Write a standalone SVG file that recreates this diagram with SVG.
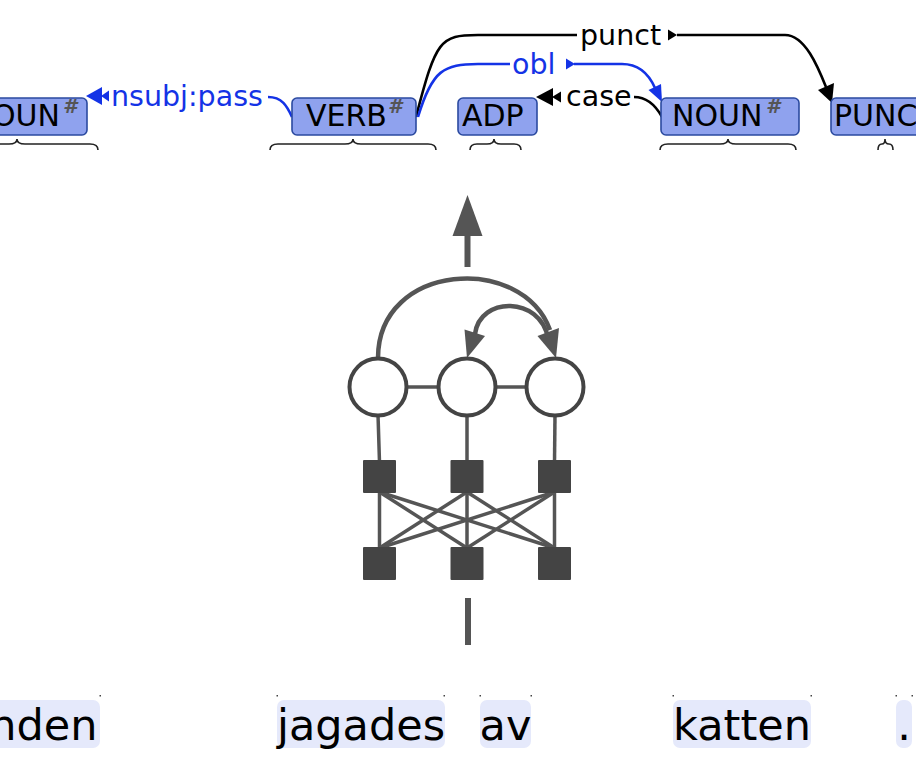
<svg xmlns="http://www.w3.org/2000/svg" width="916" height="772" viewBox="0 0 916 772">
<style>
.box{fill:#8fa2ee;stroke:#2b4aa0;stroke-width:1.6}
.pos{font-family:"DejaVu Sans",sans-serif;font-size:30px;fill:#000}
.sup{font-family:"DejaVu Sans",sans-serif;font-size:20px;font-weight:bold;font-style:italic;fill:#555}
.lab{font-family:"DejaVu Sans",sans-serif;font-size:28.5px}
.blk{fill:#000}
.blu{fill:#1433e6}
.brace{fill:none;stroke:#222;stroke-width:1.6}
.word{fill:#e5e9fb}
.wt{font-family:"DejaVu Sans",sans-serif;font-size:43px;fill:#000;text-anchor:middle}
.dot{fill:#444}
.nn{stroke:#555;stroke-width:3.5;fill:none}
.arc{stroke:#555;stroke-width:4.5;fill:none}
.circ{fill:#fff;stroke:#444;stroke-width:4}
.sq{fill:#444}
</style>

<g id="connectors">
  <!-- nsubj:pass -->
  <path d="M268,97 C282,97 287,106 292,117" fill="none" stroke="#1433e6" stroke-width="2.6"/>
  <polygon class="blu" points="86,96 102,87 102,105"/>
  <polygon class="blu" points="101,96 109,90.5 109,101.5"/>
  <text class="lab blu" x="111" y="106">nsubj:pass</text>
  <!-- punct -->
  <path d="M416,117 C436,40 440,35 478,35 L577,35" fill="none" stroke="#000" stroke-width="2.6"/>
  <path d="M677,35 L785,35 C805,35 818,67 826,87" fill="none" stroke="#000" stroke-width="2.6"/>
  <polygon class="blk" points="832,103 834,83 818,90"/>
  <polygon class="blk" points="668,29.5 668,40.5 677,35"/>
  <text class="lab blk" x="580" y="45">punct</text>
  <!-- obl -->
  <path d="M418,117 C432,70 444,64 478,64 L510,64" fill="none" stroke="#1433e6" stroke-width="2.6"/>
  <path d="M574,64 L622,64 C638,64 648,72 655,88" fill="none" stroke="#1433e6" stroke-width="2.6"/>
  <polygon class="blu" points="662,102 661,84 648.5,90"/>
  <polygon class="blu" points="566,58.5 566,69.5 575,64"/>
  <text class="lab blu" x="512" y="74">obl</text>
  <!-- case -->
  <path d="M634,97 C648,97 656,106 662,117" fill="none" stroke="#000" stroke-width="2.6"/>
  <polygon class="blk" points="536,97 553,88 553,106"/>
  <polygon class="blk" points="552,97 561,91.5 561,102.5"/>
  <text class="lab blk" x="566" y="106">case</text>
</g>

<g id="node-noun1">
  <rect class="box" x="-44" y="98" width="131" height="37" rx="5"/>
  <text class="pos" x="60" y="126" text-anchor="end">NOUN</text>
  <text class="sup" x="63" y="113">#</text>
  <path class="brace" d="M-64,150 Q-64,144 -56,144 L9,144 Q17,144 17,139 Q17,144 25,144 L90,144 Q98,144 98,150"/>
</g>
<g id="node-verb">
  <rect class="box" x="292" y="98" width="124" height="37" rx="5"/>
  <text class="pos" x="306" y="126">VERB</text>
  <text class="sup" x="388" y="113">#</text>
  <path class="brace" d="M270,150 Q270,144 278,144 L345,144 Q353,144 353,139 Q353,144 361,144 L428,144 Q436,144 436,150"/>
</g>
<g id="node-adp">
  <rect class="box" x="458" y="98" width="79" height="37" rx="5"/>
  <text class="pos" x="462" y="126">ADP</text>
  <path class="brace" d="M470,150 Q470,144 477,144 L487,144 Q494,144 494,139 Q494,144 501,144 L514,144 Q521,144 521,150"/>
</g>
<g id="node-noun2">
  <rect class="box" x="661" y="98" width="138" height="37" rx="5"/>
  <text class="pos" x="672" y="126">NOUN</text>
  <text class="sup" x="766" y="113">#</text>
  <path class="brace" d="M660,150 Q660,144 668,144 L720,144 Q728,144 728,139 Q728,144 736,144 L788,144 Q796,144 796,150"/>
</g>
<g id="node-punct">
  <rect class="box" x="831" y="98" width="130" height="37" rx="5"/>
  <text class="pos" x="834" y="126">PUNCT</text>
  <path class="brace" d="M878,150 Q878,144 882,144 Q885,144 885,139 Q885,144 889,144 Q893,144 893,150"/>
</g>

<g id="network">
  <!-- output arrow -->
  <rect x="464.5" y="233" width="6" height="34" fill="#555"/>
  <polygon points="467.5,195 452.5,236 482.5,236" fill="#555"/>
  <!-- arcs -->
  <path class="arc" d="M378,358 C378,262.5 522.2,253 550,330"/>
  <polygon points="556,358 559,328 537.5,336" fill="#555"/>
  <path class="arc" d="M548,338 C540,296 480,296 475,334"/>
  <polygon points="467,358 485,336 464.5,329.5" fill="#555"/>
  <!-- links -->
  <line class="nn" x1="405" y1="387" x2="440" y2="387"/>
  <line class="nn" x1="494" y1="387" x2="528" y2="387"/>
  <line class="nn" x1="378" y1="415" x2="379.5" y2="462"/>
  <line class="nn" x1="467" y1="415" x2="467" y2="462"/>
  <line class="nn" x1="555" y1="415" x2="554.5" y2="462"/>
  <line class="nn" x1="379.5" y1="492" x2="379.5" y2="548"/>
  <line class="nn" x1="379.5" y1="492" x2="467" y2="548"/>
  <line class="nn" x1="379.5" y1="492" x2="554.5" y2="548"/>
  <line class="nn" x1="467" y1="492" x2="379.5" y2="548"/>
  <line class="nn" x1="467" y1="492" x2="467" y2="548"/>
  <line class="nn" x1="467" y1="492" x2="554.5" y2="548"/>
  <line class="nn" x1="554.5" y1="492" x2="379.5" y2="548"/>
  <line class="nn" x1="554.5" y1="492" x2="467" y2="548"/>
  <line class="nn" x1="554.5" y1="492" x2="554.5" y2="548"/>
  <!-- circles -->
  <circle class="circ" cx="378" cy="387" r="28.5"/>
  <circle class="circ" cx="467" cy="387" r="28.5"/>
  <circle class="circ" cx="555" cy="387" r="28.5"/>
  <!-- squares -->
  <rect class="sq" x="363" y="460" width="33" height="33" rx="1"/>
  <rect class="sq" x="450.5" y="460" width="33" height="33" rx="1"/>
  <rect class="sq" x="538" y="460" width="33" height="33" rx="1"/>
  <rect class="sq" x="363" y="547" width="33" height="33" rx="1"/>
  <rect class="sq" x="450.5" y="547" width="33" height="33" rx="1"/>
  <rect class="sq" x="538" y="547" width="33" height="33" rx="1"/>
  <!-- input -->
  <rect x="465" y="598" width="6" height="47" fill="#555"/>
</g>

<g id="word-hunden">
  <rect class="word" x="-70" y="700" width="170" height="48" rx="7"/>
  <text class="wt" x="16" y="740">hunden</text>
</g>
<g id="word-jagades">
  <rect class="word" x="277" y="700" width="168" height="48" rx="7"/>
  <text class="wt" x="361" y="740">jagades</text>
</g>
<g id="word-av">
  <rect class="word" x="480" y="700" width="51" height="48" rx="7"/>
  <text class="wt" x="505.5" y="740">av</text>
</g>
<g id="word-katten">
  <rect class="word" x="673" y="700" width="138" height="48" rx="7"/>
  <text class="wt" x="742" y="740">katten</text>
</g>
<g id="word-period">
  <rect class="word" x="896" y="700" width="16" height="48" rx="7"/>
  <text class="wt" x="904" y="740">.</text>
</g>
<g id="ticks">
  <rect class="dot" x="99.5" y="695" width="1.5" height="1.5"/>
  <rect class="dot" x="276.5" y="695" width="1.5" height="1.5"/>
  <rect class="dot" x="443.5" y="695" width="1.5" height="1.5"/>
  <rect class="dot" x="479.5" y="695" width="1.5" height="1.5"/>
  <rect class="dot" x="530.5" y="695" width="1.5" height="1.5"/>
  <rect class="dot" x="672.5" y="695" width="1.5" height="1.5"/>
  <rect class="dot" x="810.5" y="695" width="1.5" height="1.5"/>
  <rect class="dot" x="895.5" y="695" width="1.5" height="1.5"/>
  <rect class="dot" x="911.5" y="695" width="1.5" height="1.5"/>
</g>
</svg>
